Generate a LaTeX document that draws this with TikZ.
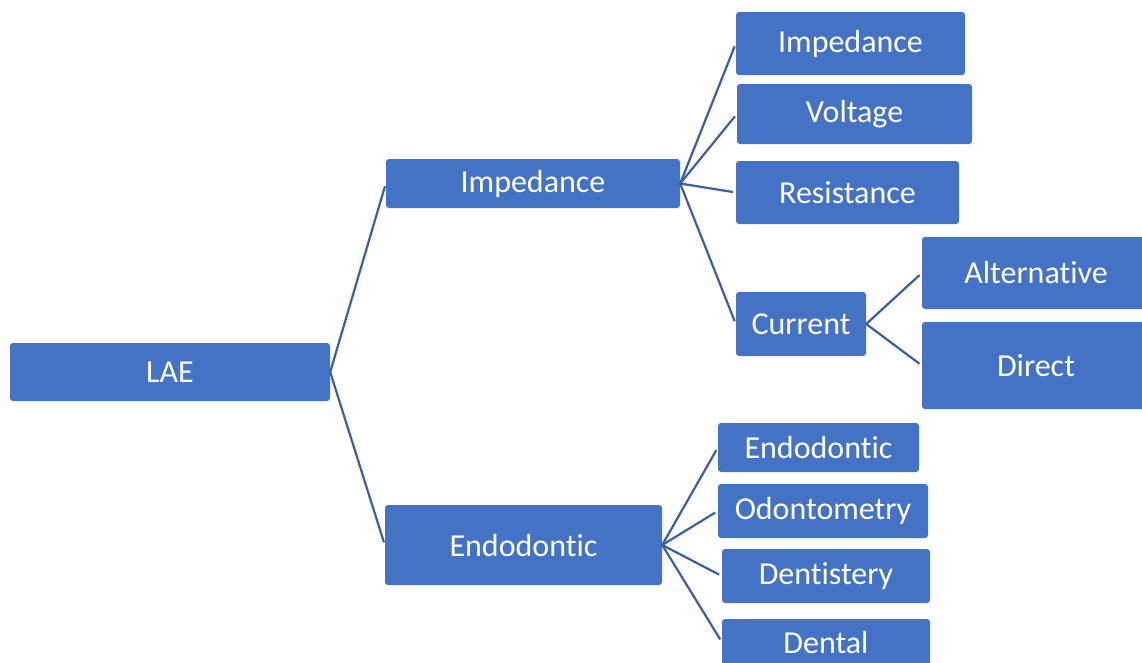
\documentclass[tikz,border=0pt]{standalone}
\usepackage{fontspec}
\setmainfont[Ligatures=NoCommon]{Carlito}
\definecolor{boxblue}{HTML}{4472C4}
\definecolor{linkblue}{HTML}{3A5DA5}
\begin{document}
\begin{tikzpicture}[x=1pt,y=-1pt,
  box/.style={draw=none, fill=boxblue, rounded corners=3pt, text=white, inner sep=0pt,
    font=\fontsize{32}{38}\selectfont},
  link/.style={draw=linkblue, line width=2.2pt, shorten >=3pt}]
\useasboundingbox (0,0) rectangle (1142,662);
\clip (0,0) rectangle (1142,662);
\node[box, minimum width=320pt, minimum height=58pt] (lae) at (170,372) {LAE};
\node[box, minimum width=294pt, minimum height=49pt] (imp) at (533,183.5) {Impedance};
\node[box, minimum width=277pt, minimum height=80pt] (endo) at (523.5,545) {Endodontic};
\node[box, minimum width=229pt, minimum height=63pt] (imp2) at (850.5,43.5) {Impedance};
\node[box, minimum width=235pt, minimum height=60pt] (volt) at (854.5,114) {Voltage};
\node[box, minimum width=223pt, minimum height=63pt] (res) at (847.5,192.5) {Resistance};
\node[box, minimum width=130pt, minimum height=64pt] (cur) at (801,324) {Current};
\node[box, minimum width=228pt, minimum height=72pt] (alt) at (1036,273) {Alternative};
\node[box, minimum width=228pt, minimum height=87pt] (dir) at (1036,365.5) {Direct};
\node[box, minimum width=201pt, minimum height=49pt] (endo2) at (818.5,447.5) {Endodontic};
\node[box, minimum width=210pt, minimum height=54pt] (odo) at (823,511) {Odontometry};
\node[box, minimum width=208pt, minimum height=54pt] (dent) at (826,576) {Dentistery};
\node[box, minimum width=208pt, minimum height=46pt] (dental) at (826,642) {Dental};
\foreach \c in {imp,endo} \draw[link] (lae.east) -- (\c.west);
\foreach \c in {imp2,volt,res,cur} \draw[link] (imp.east) -- (\c.west);
\foreach \c in {alt,dir} \draw[link] (cur.east) -- (\c.west);
\foreach \c in {endo2,odo,dent,dental} \draw[link] (endo.east) -- (\c.west);
\end{tikzpicture}
\end{document}
